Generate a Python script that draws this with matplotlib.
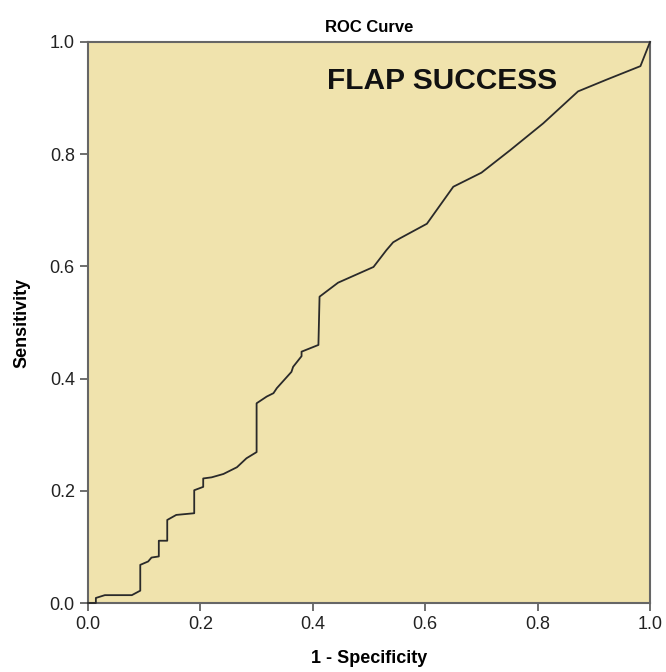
import matplotlib
matplotlib.use("Agg")
import matplotlib.pyplot as plt

plt.rcParams['font.family'] = ['Liberation Sans', 'DejaVu Sans']

fpr = [0.0, 0.014, 0.014, 0.03, 0.078, 0.093, 0.093, 0.107, 0.113, 0.126, 0.126,
       0.141, 0.141, 0.157, 0.189, 0.189, 0.205, 0.205, 0.220, 0.241, 0.265,
       0.282, 0.300, 0.300, 0.318, 0.330, 0.336, 0.362, 0.365, 0.380, 0.380,
       0.410, 0.412, 0.445, 0.508, 0.531, 0.543, 0.555, 0.603, 0.650, 0.700,
       0.751, 0.810, 0.872, 0.923, 0.983, 1.0]
tpr = [0.0, 0.0, 0.009, 0.014, 0.014, 0.022, 0.068, 0.074, 0.081, 0.083, 0.111,
       0.111, 0.148, 0.157, 0.160, 0.201, 0.207, 0.222, 0.224, 0.230, 0.242,
       0.258, 0.269, 0.356, 0.368, 0.374, 0.383, 0.412, 0.421, 0.440, 0.448,
       0.460, 0.546, 0.571, 0.599, 0.629, 0.643, 0.650, 0.676, 0.742, 0.767,
       0.807, 0.855, 0.912, 0.933, 0.957, 1.0]
ticks = [0.0, 0.2, 0.4, 0.6, 0.8, 1.0]
tick_labels = ["0.0", "0.2", "0.4", "0.6", "0.8", "1.0"]

fig = plt.figure(figsize=(6.66, 6.72), dpi=100)
ax = fig.add_axes([88/666, 1-603/672, (650-88)/666, (603-42)/672])
ax.set_facecolor('#F0E3AD')
ax.plot(fpr, tpr, color='#2a2a2a', lw=1.3, clip_on=False, zorder=3)
ax.set_xlim(0, 1)
ax.set_ylim(0, 1)
ax.set_xticks(ticks)
ax.set_xticklabels(tick_labels)
ax.set_yticks(ticks)
ax.set_yticklabels(tick_labels)
ax.tick_params(direction='out', length=6, width=1.2, colors='#555555',
               labelsize=13, labelcolor='#222222')
for s in ax.spines.values():
    s.set_color('#666666')
    s.set_linewidth(1.5)
ax.set_title("ROC Curve", fontsize=12, fontweight='bold', pad=7)
ax.set_xlabel("1 - Specificity", fontsize=13, fontweight='bold', labelpad=12)
ax.set_ylabel("Sensitivity", fontsize=13, fontweight='bold', labelpad=14)
ax.text(0.63, 0.93, "FLAP SUCCESS", fontsize=21.5, fontweight='bold',
        ha='center', va='center', color='#111111')
fig.savefig("out.png", dpi=100)
